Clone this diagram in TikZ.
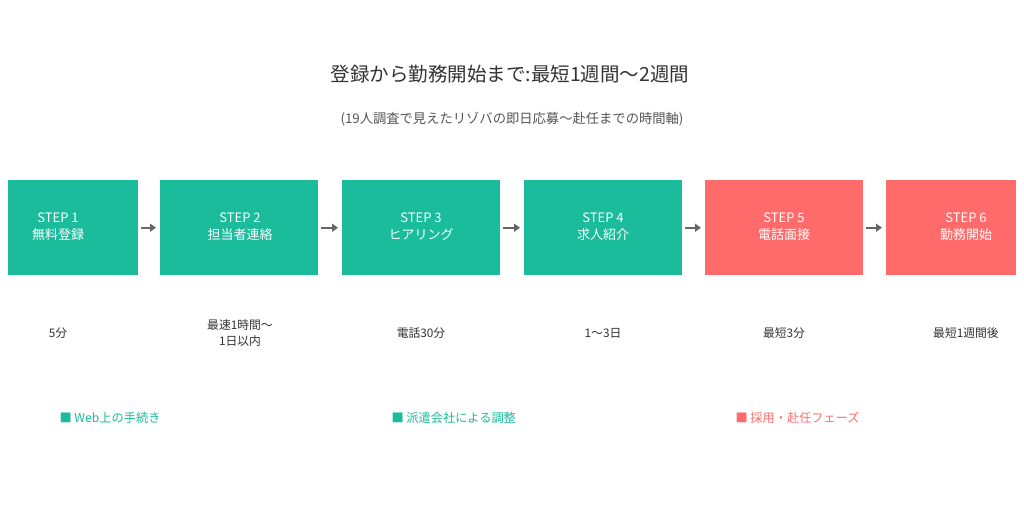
\documentclass[tikz,border=0pt]{standalone}
\usepackage{fontspec}
\setmainfont{Noto Sans CJK JP}
\usetikzlibrary{arrows.meta}
\definecolor{teal}{HTML}{1ABC9C}
\definecolor{coral}{HTML}{FF6B6B}
\definecolor{txt}{HTML}{333333}
\definecolor{sub}{HTML}{555555}
\definecolor{arr}{HTML}{666666}
\tikzset{
  stepbox/.style={draw=none, minimum width=#1, minimum height=95pt, anchor=north west, inner sep=0pt},
  steptext/.style={text=white, font=\fontsize{13}{17}\selectfont, align=center},
  flow/.style={draw=arr, line width=2pt, -{Triangle[length=6pt,width=8pt]}},
  timelabel/.style={text=txt, font=\fontsize{11.8}{16}\selectfont, align=center},
  legend/.style={font=\fontsize{12.2}{15}\selectfont, anchor=west}
}
\begin{document}
\begin{tikzpicture}[x=1pt,y=-1pt]
\useasboundingbox (0,0) rectangle (1024,504);
\fill[white] (0,0) rectangle (1024,504);
\node[text=txt, font=\fontsize{19.5}{23}\selectfont] (title) at (510,74) {登録から勤務開始まで:最短1週間〜2週間};
\node[text=sub, font=\fontsize{13.3}{16}\selectfont] (subtitle) at (512,119) {(19人調査で見えたリゾバの即日応募〜赴任までの時間軸)};
% boxes
\node[stepbox=130pt, fill=teal] (b1) at (8,180) {};
\node[stepbox=158pt, fill=teal] (b2) at (160,180) {};
\node[stepbox=158pt, fill=teal] (b3) at (342,180) {};
\node[stepbox=158pt, fill=teal] (b4) at (524,180) {};
\node[stepbox=158pt, fill=coral] (b5) at (705,180) {};
\node[stepbox=130pt, fill=coral] (b6) at (886,180) {};
% texts
\node[steptext] (t1) at (58,227) {STEP 1\\無料登録};
\node[steptext] (t2) at (240,227) {STEP 2\\担当者連絡};
\node[steptext] (t3) at (421,227) {STEP 3\\ヒアリング};
\node[steptext] (t4) at (603,227) {STEP 4\\求人紹介};
\node[steptext] (t5) at (784,227) {STEP 5\\電話面接};
\node[steptext] (t6) at (966,227) {STEP 6\\勤務開始};
% arrows
\draw[flow] ([xshift=3pt]b1.east) -- ([xshift=-4pt]b2.west);
\draw[flow] ([xshift=3pt]b2.east) -- ([xshift=-4pt]b3.west);
\draw[flow] ([xshift=3pt]b3.east) -- ([xshift=-4pt]b4.west);
\draw[flow] ([xshift=3pt]b4.east) -- ([xshift=-4pt]b5.west);
\draw[flow] ([xshift=3pt]b5.east) -- ([xshift=-4pt]b6.west);
% time labels
\node[timelabel] (l1) at (58,333) {5分};
\node[timelabel] (l2) at (240,333) {最速1時間〜\\1日以内};
\node[timelabel] (l3) at (421,333) {電話30分};
\node[timelabel] (l4) at (603,333) {1〜3日};
\node[timelabel] (l5) at (784,333) {最短3分};
\node[timelabel] (l6) at (966,333) {最短1週間後};
% legend
\node[legend, text=teal] (g1) at (56,418) {■ Web上の手続き};
\node[legend, text=teal] (g2) at (388,418) {■ 派遣会社による調整};
\node[legend, text=coral] (g3) at (732,418) {■ 採用・赴任フェーズ};
\end{tikzpicture}
\end{document}
